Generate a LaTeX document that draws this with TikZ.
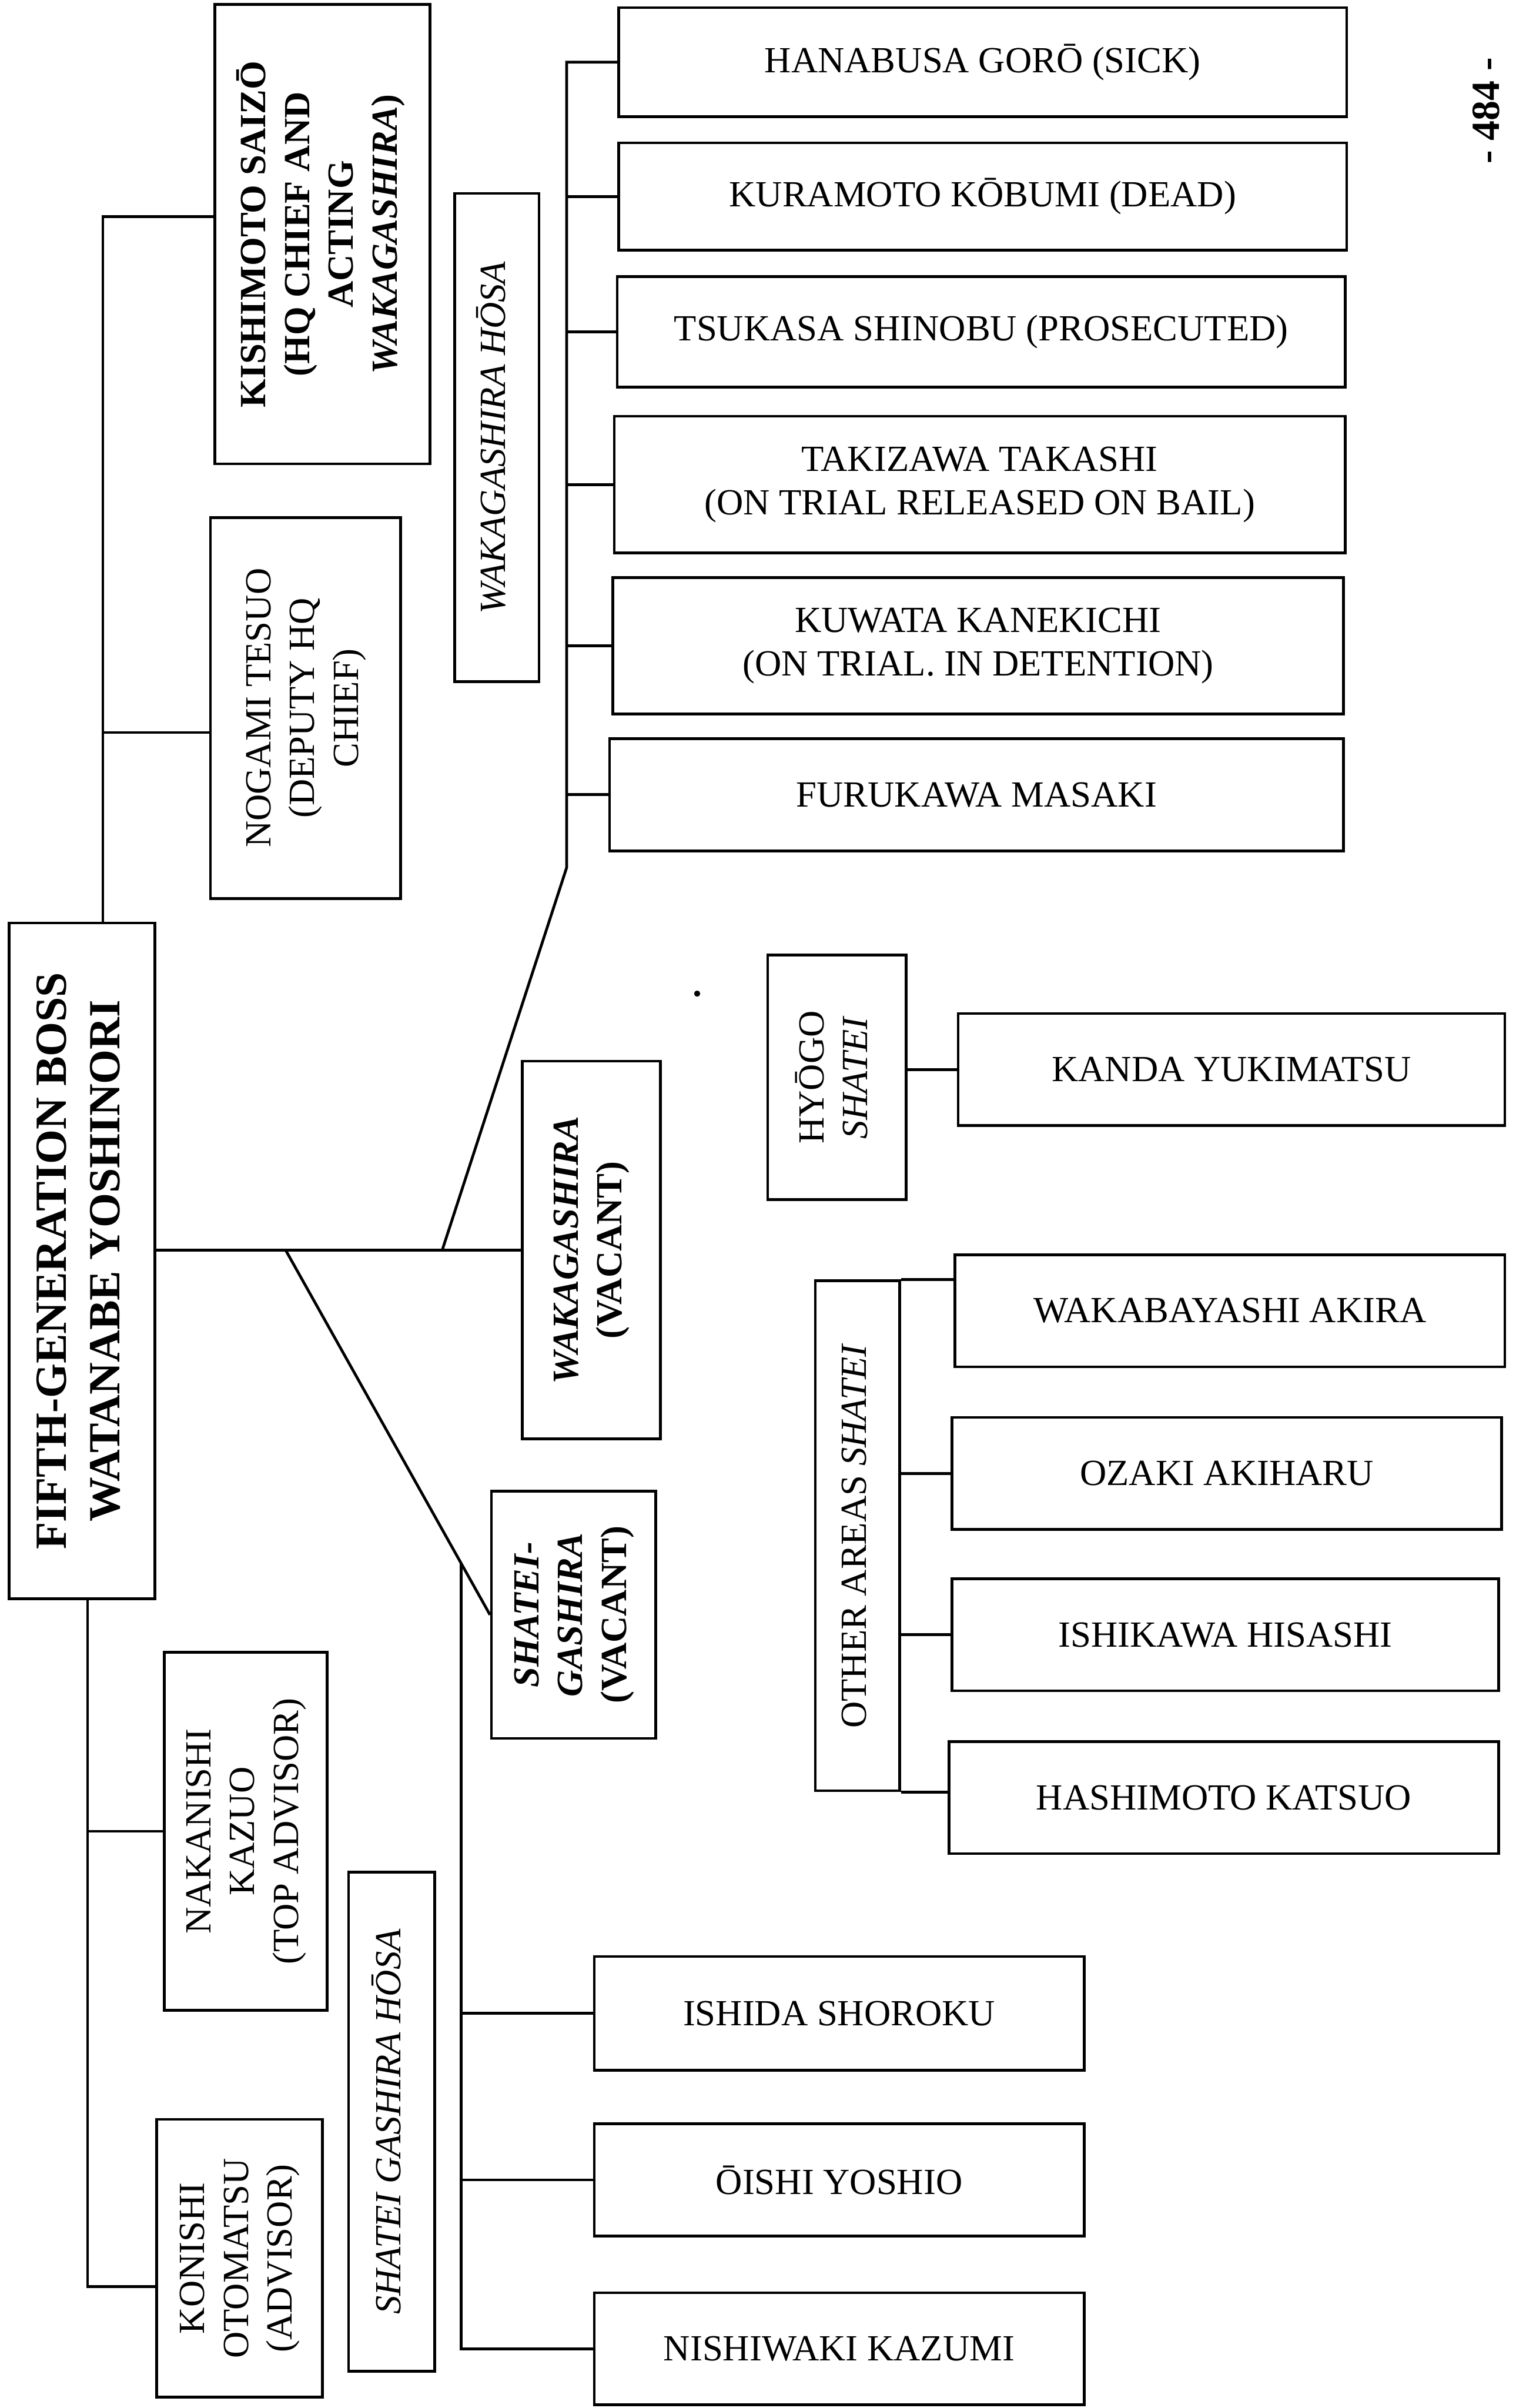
\documentclass[tikz,border=0pt]{standalone}
\usepackage{fontspec}
\setmainfont{Liberation Serif}
\usepackage{graphicx}

\newcommand{\vtext}[1]{\rotatebox{90}{\begin{tabular}{@{}c@{}}#1\end{tabular}}}

\tikzset{
  box/.style={draw, line width=1.8pt, inner sep=0pt, font=\fontsize{24}{28.5}\selectfont},
  link/.style={line width=1.8pt},
}

\begin{document}
\begin{tikzpicture}[x=1pt,y=1pt,yscale=-1,xscale=1]

\useasboundingbox (0,0) rectangle (987,1568);

% boss and the two trunks
\node[box, minimum width=95pt, minimum height=440pt, font=\fontsize{29}{35}\selectfont\bfseries] (boss) at (53.5,821) {\vtext{FIFTH-GENERATION BOSS\\WATANABE YOSHINORI}};

\node[box, minimum width=140pt, minimum height=299pt, font=\fontsize{24}{28.5}\selectfont\bfseries] (kishimoto) at (210,152.5) {\vtext{KISHIMOTO SAIZŌ\\(HQ CHIEF AND\\ACTING\\\textit{WAKAGASHIRA})}};

\node[box, minimum width=124pt, minimum height=248pt] (nogami) at (199,461) {\vtext{NOGAMI TESUO\\(DEPUTY HQ\\CHIEF)}};

\node[box, minimum width=106pt, minimum height=233pt] (nakanishi) at (160,1192.5) {\vtext{NAKANISHI\\KAZUO\\(TOP ADVISOR)}};

\node[box, minimum width=108pt, minimum height=181pt] (konishi) at (156,1470.5) {\vtext{KONISHI\\OTOMATSU\\(ADVISOR)}};

\coordinate (topbend) at (67,141);
\coordinate (nogconn) at (67,477);
\coordinate (lowbend) at (57,1489);

\draw[link] (boss.north -| topbend) |- (kishimoto.west |- topbend);
\draw[link] (nogconn) -- (nogconn -| nogami.west);
\draw[link] (boss.south -| lowbend) |- (konishi.west |- lowbend);
\draw[link] (nakanishi.west) -- (nakanishi.west -| lowbend);

% wakagashira hosa
\node[box, minimum width=55pt, minimum height=318pt] (wkhosa) at (323.5,285) {\vtext{\textit{WAKAGASHIRA HŌSA}}};

\node[box, minimum width=474pt, minimum height=71pt] (hanabusa) at (640,40.5) {HANABUSA GORŌ (SICK)};
\node[box, minimum width=474pt, minimum height=70pt] (kuramoto) at (640,128) {KURAMOTO KŌBUMI (DEAD)};
\node[box, minimum width=474pt, minimum height=72pt] (tsukasa) at (639,216) {TSUKASA SHINOBU (PROSECUTED)};
\node[box, align=center, minimum width=476pt, minimum height=89pt] (takizawa) at (638,315.5) {TAKIZAWA TAKASHI\\(ON TRIAL RELEASED ON BAIL)};
\node[box, align=center, minimum width=476pt, minimum height=89pt] (kuwata) at (637,420.5) {KUWATA KANEKICHI\\(ON TRIAL. IN DETENTION)};
\node[box, minimum width=478pt, minimum height=73pt] (furukawa) at (636,517.5) {FURUKAWA MASAKI};

\node[box, minimum width=90pt, minimum height=246pt, font=\fontsize{24}{28.5}\selectfont\bfseries] (wkvac) at (385,814) {\vtext{\textit{WAKAGASHIRA}\\(VACANT)}};

\coordinate (wkbend) at (369,565);
\coordinate (fork1) at (288,814);
\coordinate (fork2) at (186,814);

\draw[link] (wkvac.west -| boss.east) -- (wkvac.west);
\draw[link] (hanabusa.west) -| (wkbend) -- (fork1);
\draw[link] (kuramoto.west) -- (kuramoto.west -| wkbend);
\draw[link] (tsukasa.west) -- (tsukasa.west -| wkbend);
\draw[link] (takizawa.west) -- (takizawa.west -| wkbend);
\draw[link] (kuwata.west) -- (kuwata.west -| wkbend);
\draw[link] (furukawa.west) -- (furukawa.west -| wkbend);

% shatei gashira
\node[box, minimum width=107pt, minimum height=161pt, font=\fontsize{24}{28.5}\selectfont\bfseries] (sgvac) at (373.5,1051.5) {\vtext{\textit{SHATEI-}\\\textit{GASHIRA}\\(VACANT)}};

\node[box, minimum width=56pt, minimum height=325pt] (sghosa) at (255,1381.5) {\vtext{\textit{SHATEI GASHIRA HŌSA}}};

\node[box, minimum width=319pt, minimum height=74pt] (ishida) at (546.5,1311) {ISHIDA SHOROKU};
\node[box, minimum width=319pt, minimum height=73pt] (oishi) at (546.5,1419.5) {ŌISHI YOSHIO};
\node[box, minimum width=319pt, minimum height=73pt] (nishiwaki) at (546.5,1529.5) {NISHIWAKI KAZUMI};

\draw[link] (fork2) -- (sgvac.west);
\path (fork2) -- (sgvac.west) coordinate[pos=0.858] (sgtop);
\draw[link] (sgtop) |- (nishiwaki.west);
\draw[link] (ishida.west) -- (ishida.west -| sgtop);
\draw[link] (oishi.west) -- (oishi.west -| sgtop);

% shatei by area
\node[box, minimum width=90pt, minimum height=159pt] (hyogo) at (545,701.5) {\vtext{HYŌGO\\\textit{SHATEI}}};
\node[box, minimum width=356pt, minimum height=73pt] (kanda) at (802,696.5) {KANDA YUKIMATSU};
\draw[link] (kanda.west) -- (kanda.west -| hyogo.east);

\node[box, minimum width=55pt, minimum height=332pt] (otherareas) at (558.5,1000) {\vtext{OTHER AREAS \textit{SHATEI}}};
\node[box, minimum width=358pt, minimum height=73pt] (wakabayashi) at (801,853.5) {WAKABAYASHI AKIRA};
\node[box, minimum width=358pt, minimum height=73pt] (ozaki) at (799,959.5) {OZAKI AKIHARU};
\node[box, minimum width=356pt, minimum height=73pt] (ishikawa) at (798,1064.5) {ISHIKAWA HISASHI};
\node[box, minimum width=358pt, minimum height=73pt] (hashimoto) at (797,1170.5) {HASHIMOTO KATSUO};

\draw[link] (otherareas.north east) -- (otherareas.north east -| wakabayashi.west);
\draw[link] (ozaki.west) -- (ozaki.west -| otherareas.east);
\draw[link] (ishikawa.west) -- (ishikawa.west -| otherareas.east);
\draw[link] (otherareas.south east) -- (otherareas.south east -| hashimoto.west);

\fill (454,647) circle (2pt);

\node[font=\fontsize{26}{30}\selectfont\bfseries] (pagenum) at (968,72) {\rotatebox{90}{- 484 -}};

\end{tikzpicture}
\end{document}
